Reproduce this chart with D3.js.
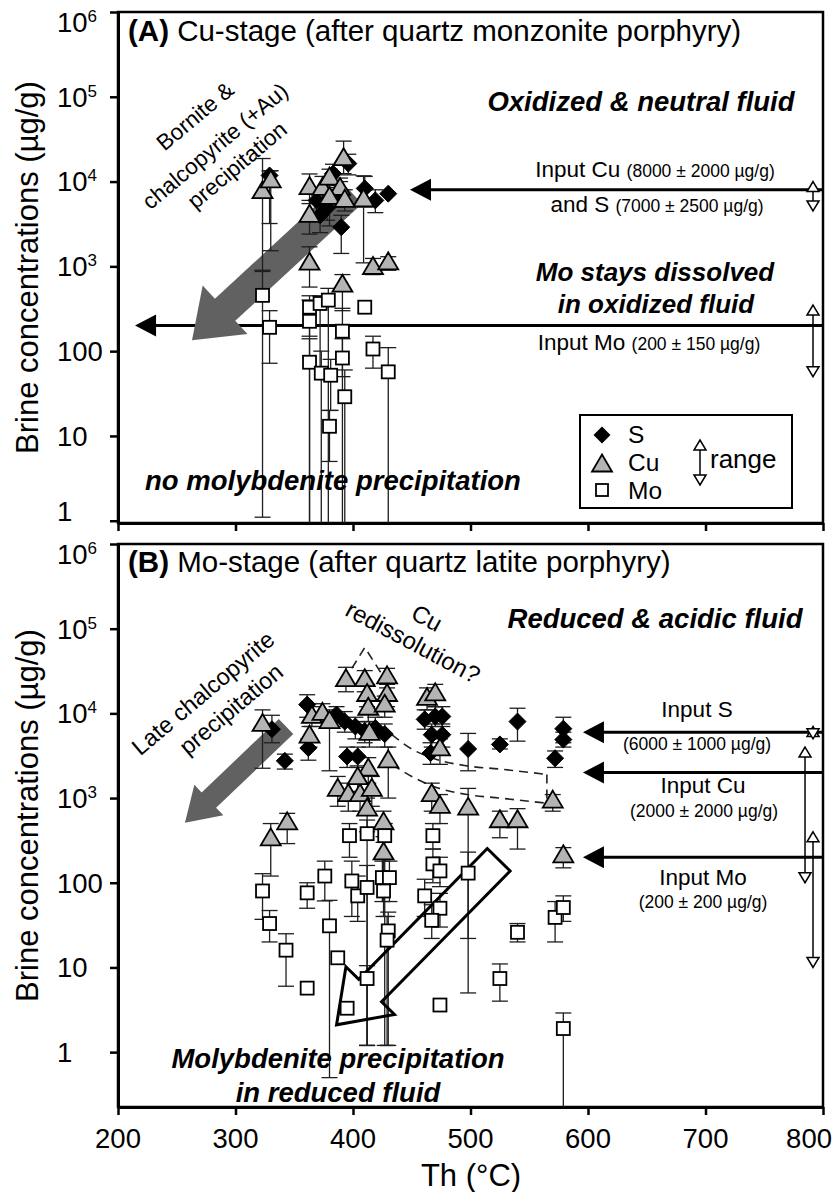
<!DOCTYPE html>
<html>
<head>
<meta charset="utf-8">
<script src="https://cdn.jsdelivr.net/npm/d3@7"></script>
<style>
  body { margin: 0; background: #fff; }
  svg { display: block; font-family: "Liberation Sans", Arial, Helvetica, sans-serif; }
</style>
</head>
<body>
<svg id="chart" width="835" height="1192"></svg>
<script>
// ---------- axis ticks ----------
const xTickVals = [200, 300, 400, 500, 600, 700, 800];
const yTickVals = [1, 10, 100, 1e3, 1e4, 1e5, 1e6];

// ---------- (A) Cu-stage brines: [Th °C, conc µg/g, lower, upper] ----------
const cuStageS = [
  [329, 11800, 3200, 13400], [383, 12400, 9000, 16000], [396, 16300, 12000, 21000],
  [369, 6000, 4000, 8000], [378, 4900, 3500, 6500], [372, 4000, 2500, 5500],
  [386, 6500, 5000, 8500], [390, 2900, 1420, 4000], [410, 8300, 5000, 11500],
  [419, 6000, 4300, 8000], [430, 7200, null, null], [389, 7800, 6000, 10000]
];
const cuStageCu = [
  [323, 7600, 870, 18700], [330, 10200, 1530, 13400], [363, 8500, 5500, 12300],
  [374, 8300, 6000, 11500], [380, 11000, 8000, 14000], [389, 8300, 6000, 11000],
  [380, 6500, 3000, 9000], [393, 6000, 4500, 8000], [409, 6100, 1100, 11700],
  [363, 4000, 2400, 6000], [392, 18600, 12400, 30000], [417, 970, 800, 1240],
  [430, 1100, 900, 1300], [363, 1090, 570, 1700], [391, 600, 300, 800]
];
const cuStageMo = [
  [323, 455, 1.1, 900], [329, 191, 72, 300], [363, 330, 150, 450], [363, 225, 0.5, 400],
  [372, 365, 63, 450], [379, 400, 0.5, 550], [363, 74, 0.5, 140], [373, 55, 0.5, 100],
  [381, 52, 20, 80], [391, 172, 0.5, 320], [391, 83, 50, 140], [393, 29, 0.5, 60],
  [380, 13, 5, 20], [410, 330, null, null], [417, 106, 63, 150], [430, 57, 0.5, 110]
];
const cuStageInputs = [8000, 200];              // Cu (and S), Mo
const cuStageRanges = [[4500, 10000], [50, 350]];
const cuStageArrow = [[399, 7400], [263, 134]];  // bornite & chalcopyrite precipitation

// ---------- (B) Mo-stage brines ----------
const moStageS = [
  [331, 6500, 4500, 9500], [342, 2750, 2200, 3300], [361, 12700, 9000, 16600],
  [362, 3900, 2800, 5000], [386, 9700, 7000, 12000], [393, 8000, 6000, 10500],
  [402, 7000, 5000, 9000], [410, 6200, 4500, 8000], [419, 6700, 5000, 9000],
  [427, 5700, 4000, 7500], [395, 3100, 2300, 4000], [404, 3100, 2300, 4000],
  [461, 8500, 6500, 11000], [470, 9200, 7000, 12000], [476, 9200, 7000, 12000],
  [467, 5600, 4000, 7500], [476, 5600, 4000, 7500], [466, 3400, 2500, 4500],
  [498, 3800, 2100, 5800], [525, 4300, 3800, 5000], [540, 8000, 4700, 11500],
  [579, 6600, 4500, 9000], [579, 4900, 4000, 6000], [572, 2950, 2300, 3600]
];
const moStageCu = [
  [323, 7400, 2250, 11000], [365, 9200, 7000, 12000], [363, 5400, 4000, 7000],
  [374, 10000, 8000, 13000], [380, 8000, 2100, 11000], [394, 25000, 18000, 35000],
  [410, 25000, 18000, 32000], [429, 27000, 20000, 34000], [412, 16700, 12000, 22000],
  [429, 16700, 12000, 22000], [413, 11500, 8000, 15000], [427, 12500, 9000, 16000],
  [414, 5800, 4000, 8000], [413, 2200, 1500, 3000], [430, 2750, 1000, 4000],
  [387, 1270, 800, 1800], [396, 1100, 700, 1500], [406, 1100, 700, 1500],
  [416, 1270, 800, 1800], [404, 1740, 1200, 2400], [412, 740, 400, 1000],
  [426, 510, 300, 700], [426, 225, 120, 350], [330, 330, 120, 500],
  [344, 510, 290, 660], [463, 15000, 11000, 20000], [470, 17000, 12000, 22000],
  [474, 3800, 2500, 5000], [467, 1100, 700, 1500], [474, 800, 500, 1100],
  [498, 760, 22, 1300], [525, 540, 340, 700], [540, 540, 250, 750],
  [570, 920, 700, 1100], [579, 208, 150, 260]
];
const moStageMo = [
  [323, 80, 37, 128], [329, 33, 20, 47], [343, 16, 6, 25], [361, 5.7, null, null],
  [361, 76, 50, 100], [376, 120, 61, 180], [380, 31, 0.5, 62], [387, 13, null, null],
  [395, 3.3, null, null], [412, 7.4, 1.2, 10.5], [397, 360, 200, 500], [412, 380, 1.2, 550],
  [427, 360, 1.2, 500], [399, 105, 40, 180], [404, 70, 35, 120], [412, 88, 1.2, 160],
  [425, 115, 60, 180], [431, 115, 60, 180], [426, 80, 40, 130], [430, 27, 1.2, 45],
  [429, 21, 1.2, 40], [468, 360, 250, 500], [468, 167, 100, 250], [474, 138, 90, 200],
  [461, 70, 40, 110], [474, 50, 30, 75], [467, 36, 22, 55], [474, 3.6, null, null],
  [498, 130, 5, 230], [525, 7.4, 4, 11], [540, 26, 20, 33], [572, 39, 20, 60],
  [579, 51, 35, 70], [579, 1.9, 0.1, 2.9]
];
const moStageInputs = [6000, 2000, 200];                 // S, Cu, Mo
const moStageRanges = [[5000, 7000], [100, 4000], [10, 400]];
const moStageArrow = [[343, 7000], [257, 510]];          // late chalcopyrite
const molyArrow = [[524, 187], [386, 2.1]];              // molybdenite precipitation
// Cu redissolution envelope
const redissTent = [[399, 34000], [410, 60000], [426, 27000]];
const redissUpper = [[433, 5600], [450, 3800], [468, 2950], [497, 2400], [525, 2200], [565, 1900]];
const redissLower = [[433, 2500], [450, 1800], [468, 1380], [497, 1100], [525, 1000], [565, 870]];

// ---------- scales ----------
const svg = d3.select("#chart");
const x = d3.scaleLinear().domain([200, 800]).range([118, 823]);
const yA = d3.scaleLog().domain([0.94, 1e6]).range([523, 12]);
const yB = d3.scaleLog().domain([0.225, 1e6]).range([1107, 544]);

const DIAMOND = "M0,-8.5L8.5,0L0,8.5L-8.5,0Z";
const TRIANGLE = "M0,-10.5L10,6.5L-10,6.5Z";
const FONT_BI = { "font-weight": "bold", "font-style": "italic" };

function applyAttrs(sel, attrs) { for (const k in attrs) sel.attr(k, attrs[k]); return sel; }

function frame(y, id, xLabels) {
  const [bottom, top] = y.range();
  const g = svg.append("g");
  g.append("clipPath").attr("id", id).append("rect")
    .attr("x", 118).attr("y", top).attr("width", 705).attr("height", bottom - top);
  // box
  g.append("rect").attr("x", 118).attr("y", top).attr("width", 705).attr("height", bottom - top)
    .attr("fill", "none").attr("stroke", "#000").attr("stroke-width", 2.5);
  // left axis
  const ay = g.append("g").attr("transform", "translate(118,0)")
    .call(d3.axisLeft(y).tickValues(yTickVals).tickSize(8).tickSizeOuter(0).tickFormat(() => ""));
  ay.select(".domain").attr("stroke-width", 3);
  ay.selectAll(".tick line").attr("stroke-width", 2.5);
  // bottom axis
  const ax = g.append("g").attr("transform", `translate(0,${bottom})`)
    .call(d3.axisBottom(x).tickValues(xTickVals).tickSize(8).tickSizeOuter(0).tickFormat(() => ""));
  ax.select(".domain").attr("stroke-width", 3);
  ax.selectAll(".tick line").attr("stroke-width", 2.5);
  // y tick labels (powers of ten)
  const labs = g.selectAll("text.ytick").data(yTickVals).join("text")
    .attr("class", "ytick").attr("x", 57)
    .attr("y", d => {
      let yy = y(d);
      if (d === 1e6) yy += 10;
      if (d === 1 && y === yA) yy -= 10;
      return yy;
    })
    .attr("dy", "0.36em").attr("font-size", 27.5);
  labs.each(function (d) {
    const t = d3.select(this);
    if (d < 1000) { t.text(String(d)); return; }
    t.append("tspan").text("10");
    t.append("tspan").attr("font-size", 17).attr("dy", -10).text(String(Math.round(Math.log10(d))));
  });
  if (xLabels) {
    const last = xTickVals[xTickVals.length - 1];
    g.selectAll("text.xtick").data(xTickVals).join("text")
      .attr("class", "xtick")
      .attr("x", d => d === last ? 832 : x(d))
      .attr("y", 1148)
      .attr("text-anchor", d => d === last ? "end" : "middle")
      .attr("font-size", 27.5).text(d => d);
  }
  // y title
  g.append("text")
    .attr("transform", `translate(38,${(top + bottom) / 2 - (y === yB ? 10 : 0)}) rotate(-90)`)
    .attr("text-anchor", "middle").attr("font-size", 31)
    .text("Brine concentrations (\u00b5g/g)");
  return g;
}

function blockArrow(p0, p1, w, hw, hl) {
  const dx = p1[0] - p0[0], dy = p1[1] - p0[1], L = Math.hypot(dx, dy);
  const ux = dx / L, uy = dy / L, nx = -uy, ny = ux;
  const bx = p1[0] - ux * hl, by = p1[1] - uy * hl;
  return [
    [p0[0] + nx * w / 2, p0[1] + ny * w / 2], [bx + nx * w / 2, by + ny * w / 2],
    [bx + nx * hw, by + ny * hw], p1, [bx - nx * hw, by - ny * hw],
    [bx - nx * w / 2, by - ny * w / 2], [p0[0] - nx * w / 2, p0[1] - ny * w / 2]
  ];
}

function inputArrow(g, y, v, tipT) {
  const yy = y(v), tx = x(tipT);
  g.append("line").attr("x1", tx + 10).attr("x2", x(800) + 4).attr("y1", yy).attr("y2", yy)
    .attr("stroke", "#000").attr("stroke-width", 3);
  g.append("path").attr("d", `M${tx},${yy}L${tx + 21},${yy - 11}L${tx + 21},${yy + 11}Z`).attr("fill", "#000");
}

function rangeArrow(g, px, yLo, yHi) {
  g.append("line").attr("x1", px).attr("x2", px).attr("y1", yHi + 9).attr("y2", yLo - 9)
    .attr("stroke", "#000").attr("stroke-width", 1.5);
  g.append("path").attr("d", `M${px},${yHi}L${px + 6},${yHi + 10}L${px - 6},${yHi + 10}Z`)
    .attr("fill", "#fff").attr("stroke", "#000").attr("stroke-width", 1.5);
  g.append("path").attr("d", `M${px},${yLo}L${px + 6},${yLo - 10}L${px - 6},${yLo - 10}Z`)
    .attr("fill", "#fff").attr("stroke", "#000").attr("stroke-width", 1.5);
}

function errorBars(g, data, y) {
  const rows = data.filter(d => d[2] != null);
  const eg = g.append("g").attr("stroke", "#1e1e1e").attr("stroke-width", 1.3);
  eg.selectAll("line.v").data(rows).join("line").attr("class", "v")
    .attr("x1", d => x(d[0])).attr("x2", d => x(d[0])).attr("y1", d => y(d[2])).attr("y2", d => y(d[3]));
  eg.selectAll("line.lo").data(rows).join("line").attr("class", "lo")
    .attr("x1", d => x(d[0]) - 8).attr("x2", d => x(d[0]) + 8).attr("y1", d => y(d[2])).attr("y2", d => y(d[2]));
  eg.selectAll("line.hi").data(rows).join("line").attr("class", "hi")
    .attr("x1", d => x(d[0]) - 8).attr("x2", d => x(d[0]) + 8).attr("y1", d => y(d[3])).attr("y2", d => y(d[3]));
}

function markers(g, sData, cuData, moData, y) {
  g.append("g").selectAll("path").data(sData).join("path")
    .attr("d", DIAMOND).attr("transform", d => `translate(${x(d[0])},${y(d[1])})`)
    .attr("fill", "#000").attr("stroke", "#000").attr("stroke-width", 1);
  g.append("g").selectAll("path").data(cuData).join("path")
    .attr("d", TRIANGLE).attr("transform", d => `translate(${x(d[0])},${y(d[1])})`)
    .attr("fill", "#b4b4b4").attr("stroke", "#000").attr("stroke-width", 1.8);
  g.append("g").selectAll("rect").data(moData).join("rect")
    .attr("x", d => x(d[0]) - 6.5).attr("y", d => y(d[1]) - 6.5).attr("width", 13).attr("height", 13)
    .attr("fill", "#fff").attr("stroke", "#000").attr("stroke-width", 1.8);
}

function rotText(g, cx, cy, angle, size, str, attrs) {
  const t = g.append("text").attr("transform", `translate(${cx},${cy}) rotate(${angle})`)
    .attr("text-anchor", "middle").attr("dy", "0.35em").attr("font-size", size).text(str);
  if (attrs) applyAttrs(t, attrs);
  return t;
}

function plainText(g, px, py, size, str, attrs) {
  const t = g.append("text").attr("x", px).attr("y", py).attr("text-anchor", "middle")
    .attr("font-size", size).text(str);
  if (attrs) applyAttrs(t, attrs);
  return t;
}

function mixedText(g, px, py, big, small) {
  const t = g.append("text").attr("x", px).attr("y", py).attr("text-anchor", "middle");
  t.append("tspan").attr("font-size", 22.5).text(big + " ");
  t.append("tspan").attr("font-size", 17.5).text(small);
}

// ================= Panel A =================
const gA = frame(yA, "clipA", false);
const pA = gA.append("g").attr("clip-path", "url(#clipA)");
inputArrow(pA, yA, cuStageInputs[0], 448.5);
inputArrow(pA, yA, cuStageInputs[1], 214.5);
pA.append("polygon")
  .attr("points", blockArrow([x(cuStageArrow[0][0]), yA(cuStageArrow[0][1])],
                             [x(cuStageArrow[1][0]), yA(cuStageArrow[1][1])], 30, 33, 45).join(" "))
  .attr("fill", "#616161");
errorBars(pA, cuStageS.concat(cuStageCu, cuStageMo), yA);
markers(pA, cuStageS, cuStageCu, cuStageMo, yA);
rangeArrow(gA, x(791.5), yA(cuStageRanges[0][0]), yA(cuStageRanges[0][1]));
rangeArrow(gA, x(791.5), yA(cuStageRanges[1][0]), yA(cuStageRanges[1][1]));

// title
const tA = gA.append("text").attr("x", 128).attr("y", 41).attr("font-size", 29.5);
tA.append("tspan").attr("font-weight", "bold").text("(A)");
tA.append("tspan").text(" Cu-stage (after quartz monzonite porphyry)");

plainText(gA, 641, 111, 27.5, "Oxidized & neutral fluid", FONT_BI);
mixedText(gA, 655, 177, "Input Cu", "(8000 \u00b1 2000 \u00b5g/g)");
mixedText(gA, 657, 212, "and S", "(7000 \u00b1 2500 \u00b5g/g)");
plainText(gA, 655, 281, 26, "Mo stays dissolved", FONT_BI);
plainText(gA, 656, 313, 26, "in oxidized fluid", FONT_BI);
mixedText(gA, 649, 350, "Input Mo", "(200 \u00b1 150 \u00b5g/g)");
plainText(gA, 333, 490, 27.5, "no molybdenite precipitation", FONT_BI);
rotText(gA, 195, 116, -40, 22.5, "Bornite &");
rotText(gA, 215, 146, -40, 22.5, "chalcopyrite (+Au)");
rotText(gA, 237, 165, -40, 22.5, "precipitation");

// legend
const lg = gA.append("g");
lg.append("rect").attr("x", 580).attr("y", 415).attr("width", 212).attr("height", 93)
  .attr("fill", "#fff").attr("stroke", "#000").attr("stroke-width", 2);
lg.append("path").attr("d", DIAMOND).attr("transform", "translate(602,435)").attr("fill", "#000");
lg.append("path").attr("d", TRIANGLE).attr("transform", "translate(602,465)")
  .attr("fill", "#b4b4b4").attr("stroke", "#000").attr("stroke-width", 1.8);
lg.append("rect").attr("x", 596).attr("y", 484).attr("width", 12).attr("height", 12)
  .attr("fill", "#fff").attr("stroke", "#000").attr("stroke-width", 1.8);
[["S", 443], ["Cu", 471], ["Mo", 499]].forEach(([s, yy]) =>
  lg.append("text").attr("x", 628).attr("y", yy).attr("font-size", 24.5).text(s));
rangeArrow(lg, 700, 485, 440);
lg.append("text").attr("x", 710).attr("y", 468).attr("font-size", 26).text("range");

// ================= Panel B =================
const gB = frame(yB, "clipB", true);
const pB = gB.append("g").attr("clip-path", "url(#clipB)");
moStageInputs.forEach(v => inputArrow(pB, yB, v, 595.7));
pB.append("polygon")
  .attr("points", blockArrow([x(moStageArrow[0][0]), yB(moStageArrow[0][1])],
                             [x(moStageArrow[1][0]), yB(moStageArrow[1][1])], 21, 21, 33).join(" "))
  .attr("fill", "#616161");
const dash = { fill: "none", stroke: "#222", "stroke-width": 1.6, "stroke-dasharray": "9,6" };
const lineGen = d3.line().x(d => x(d[0])).y(d => yB(d[1]));
applyAttrs(pB.append("path").attr("d", lineGen(redissTent)), dash);
applyAttrs(pB.append("path").attr("d", lineGen.curve(d3.curveMonotoneX)(redissUpper)), dash);
applyAttrs(pB.append("path").attr("d", lineGen.curve(d3.curveMonotoneX)(redissLower)), dash);
applyAttrs(pB.append("path").attr("d", d3.line().x(d => x(d[0])).y(d => yB(d[1]))(
  [redissUpper[redissUpper.length - 1], redissLower[redissLower.length - 1]])), dash);
errorBars(pB, moStageS.concat(moStageCu, moStageMo), yB);
pB.append("polygon")
  .attr("points", blockArrow([x(molyArrow[0][0]), yB(molyArrow[0][1])],
                             [x(molyArrow[1][0]), yB(molyArrow[1][1])], 32, 34, 48).join(" "))
  .attr("fill", "none").attr("stroke", "#000").attr("stroke-width", 3).attr("stroke-linejoin", "miter");
markers(pB, moStageS, moStageCu, moStageMo, yB);
rangeArrow(gB, x(791.5), yB(moStageRanges[0][0]), yB(moStageRanges[0][1]));
rangeArrow(gB, x(784.7), yB(moStageRanges[1][0]), yB(moStageRanges[1][1]));
rangeArrow(gB, x(791.5), yB(moStageRanges[2][0]), yB(moStageRanges[2][1]));

const tB = gB.append("text").attr("x", 128).attr("y", 572).attr("font-size", 29.5);
tB.append("tspan").attr("font-weight", "bold").text("(B)");
tB.append("tspan").text(" Mo-stage (after quartz latite porphyry)");

plainText(gB, 655, 628, 27.5, "Reduced & acidic fluid", FONT_BI);
plainText(gB, 697, 717, 22.5, "Input S");
plainText(gB, 697, 750, 17.5, "(6000 \u00b1 1000 \u00b5g/g)");
plainText(gB, 703, 793, 22.5, "Input Cu");
plainText(gB, 704, 817, 17.5, "(2000 \u00b1 2000 \u00b5g/g)");
plainText(gB, 703, 885, 22.5, "Input Mo");
plainText(gB, 703, 908, 17.5, "(200 \u00b1 200 \u00b5g/g)");
rotText(gB, 203, 693, -40, 23.5, "Late chalcopyrite");
rotText(gB, 231, 709, -40, 23.5, "precipitation");
rotText(gB, 427, 618, 28, 24, "Cu");
rotText(gB, 413, 642, 28, 24, "redissolution?");
plainText(gB, 338, 1068, 27.5, "Molybdenite precipitation", FONT_BI);
plainText(gB, 338, 1102, 27.5, "in reduced fluid", FONT_BI);
gB.append("text").attr("x", 471).attr("y", 1186).attr("text-anchor", "middle")
  .attr("font-size", 31).text("Th (\u00b0C)");
</script>
</body>
</html>
